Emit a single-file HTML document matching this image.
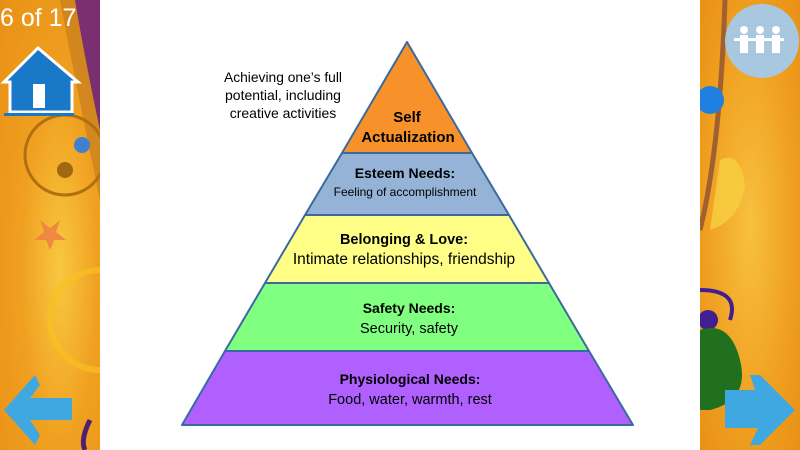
<!DOCTYPE html>
<html><head><meta charset="utf-8"><style>
body{margin:0;width:800px;height:450px;overflow:hidden;position:relative;font-family:"Liberation Sans",sans-serif;background:#f0a020}
.side{position:absolute;top:0;height:450px;width:100px;overflow:hidden}
</style></head><body>
<div class="side" style="left:0;background:radial-gradient(ellipse at 60% 60%,#f8c840 0%,#f0a020 45%,#e89015 100%)">
<svg width="100" height="450" style="position:absolute;left:0;top:0">
<path d="M60 0 Q75 80 100 200 L100 0Z" fill="#c07820" opacity="0.6"/>
<path d="M75 0 Q85 60 100 130 L100 0Z" fill="#7a3070"/>
<circle cx="65" cy="155" r="40" fill="none" stroke="#b07010" stroke-width="3"/>
<circle cx="65" cy="170" r="8" fill="#a06810"/>
<circle cx="100" cy="320" r="50" fill="none" stroke="#f8c020" stroke-width="6" opacity="0.7"/>
<path d="M40 220 l10 8 10-8-4 12 10 8-12 0-4 10-4-10-12 0 10-8z" fill="#f08840"/>
<circle cx="82" cy="145" r="8" fill="#4080d0"/>
<path d="M90 420 Q80 440 85 450" stroke="#502070" stroke-width="5" fill="none"/>
<path d="M38 48 L4 82 L10 82 L10 112 L72 112 L72 82 L78 82 Z" fill="#1a78c8" stroke="#fff" stroke-width="3"/>
<rect x="33" y="84" width="12" height="24" fill="#fff"/>
<rect x="4" y="113" width="70" height="3" fill="#1a78c8"/>
<path d="M4 410 L35 375 L40 385 L30 398 L72 398 L72 420 L30 420 L40 435 L35 445 Z" fill="#40a8e0"/>
</svg>
<div style="position:absolute;left:0;top:3px;color:#fff;font-size:25px;line-height:30px">6 of 17</div>
</div>
<div class="side" style="left:700px;background:radial-gradient(ellipse at 50% 50%,#f8c040 0%,#f0a020 60%,#e89015 100%)">
<svg width="100" height="450" style="position:absolute;left:0;top:0">
<path d="M25 0 Q20 150 0 230" stroke="#a06030" stroke-width="5" fill="none"/>
<path d="M20 160 Q40 150 45 185 Q40 220 10 230Z" fill="#f8d040" opacity="0.8"/>
<circle cx="10" cy="100" r="14" fill="#2080e0"/>
<path d="M0 290 Q40 290 30 320" stroke="#402090" stroke-width="4" fill="none"/>
<circle cx="8" cy="320" r="10" fill="#402090"/>
<path d="M0 330 Q30 320 40 360 Q50 400 10 410 L0 410Z" fill="#207020"/>
<circle cx="62" cy="41" r="37" fill="#a8c8e0"/>
<path d="M25 390 L55 390 L50 375 L60 375 L95 410 L60 445 L50 445 L58 428 L25 428Z" fill="#40a8e0"/>
<g fill="#fff"><circle cx="44" cy="30" r="4"/><rect x="40" y="35" width="8" height="18"/><circle cx="60" cy="30" r="4"/><rect x="56" y="35" width="8" height="18"/><circle cx="76" cy="30" r="4"/><rect x="72" y="35" width="8" height="18"/><rect x="34" y="38" width="50" height="3"/></g>
</svg>
</div>
<div style="position:absolute;left:100px;top:0;width:600px;height:450px;background:#fff"></div>
<svg width="800" height="450" style="position:absolute;left:0;top:0">
<g stroke="#3a6aa0" stroke-width="2" stroke-linejoin="round">
<polygon points="407,42 472,153 342,153" fill="#f7922a"/>
<polygon points="342,153 472,153 509,215 305,215" fill="#95b3d7"/>
<polygon points="305,215 509,215 549,283 265,283" fill="#ffff88"/>
<polygon points="265,283 549,283 589,351 225,351" fill="#80ff80"/>
<polygon points="225,351 589,351 633,425 182,425" fill="#b060ff"/>
</g>
<g font-family="Liberation Sans, sans-serif" text-anchor="middle" fill="#000">
<text x="407" y="122" font-size="15" font-weight="bold">Self</text>
<text x="408" y="142" font-size="15" font-weight="bold">Actualization</text>
<text x="405" y="178" font-size="14" font-weight="bold">Esteem Needs:</text>
<text x="405" y="196" font-size="12">Feeling of accomplishment</text>
<text x="404" y="244" font-size="14.5" font-weight="bold">Belonging &amp; Love:</text>
<text x="404" y="264" font-size="15.5">Intimate relationships, friendship</text>
<text x="409" y="313" font-size="14" font-weight="bold">Safety Needs:</text>
<text x="409" y="333" font-size="14.5">Security, safety</text>
<text x="410" y="384" font-size="14" font-weight="bold">Physiological Needs:</text>
<text x="410" y="404" font-size="14.5">Food, water, warmth, rest</text>
<text x="283" y="82" font-size="14" textLength="118" lengthAdjust="spacingAndGlyphs">Achieving one’s full</text>
<text x="283" y="100" font-size="14">potential, including</text>
<text x="283" y="118" font-size="14">creative activities</text>
</g>
</svg>
</body></html>
